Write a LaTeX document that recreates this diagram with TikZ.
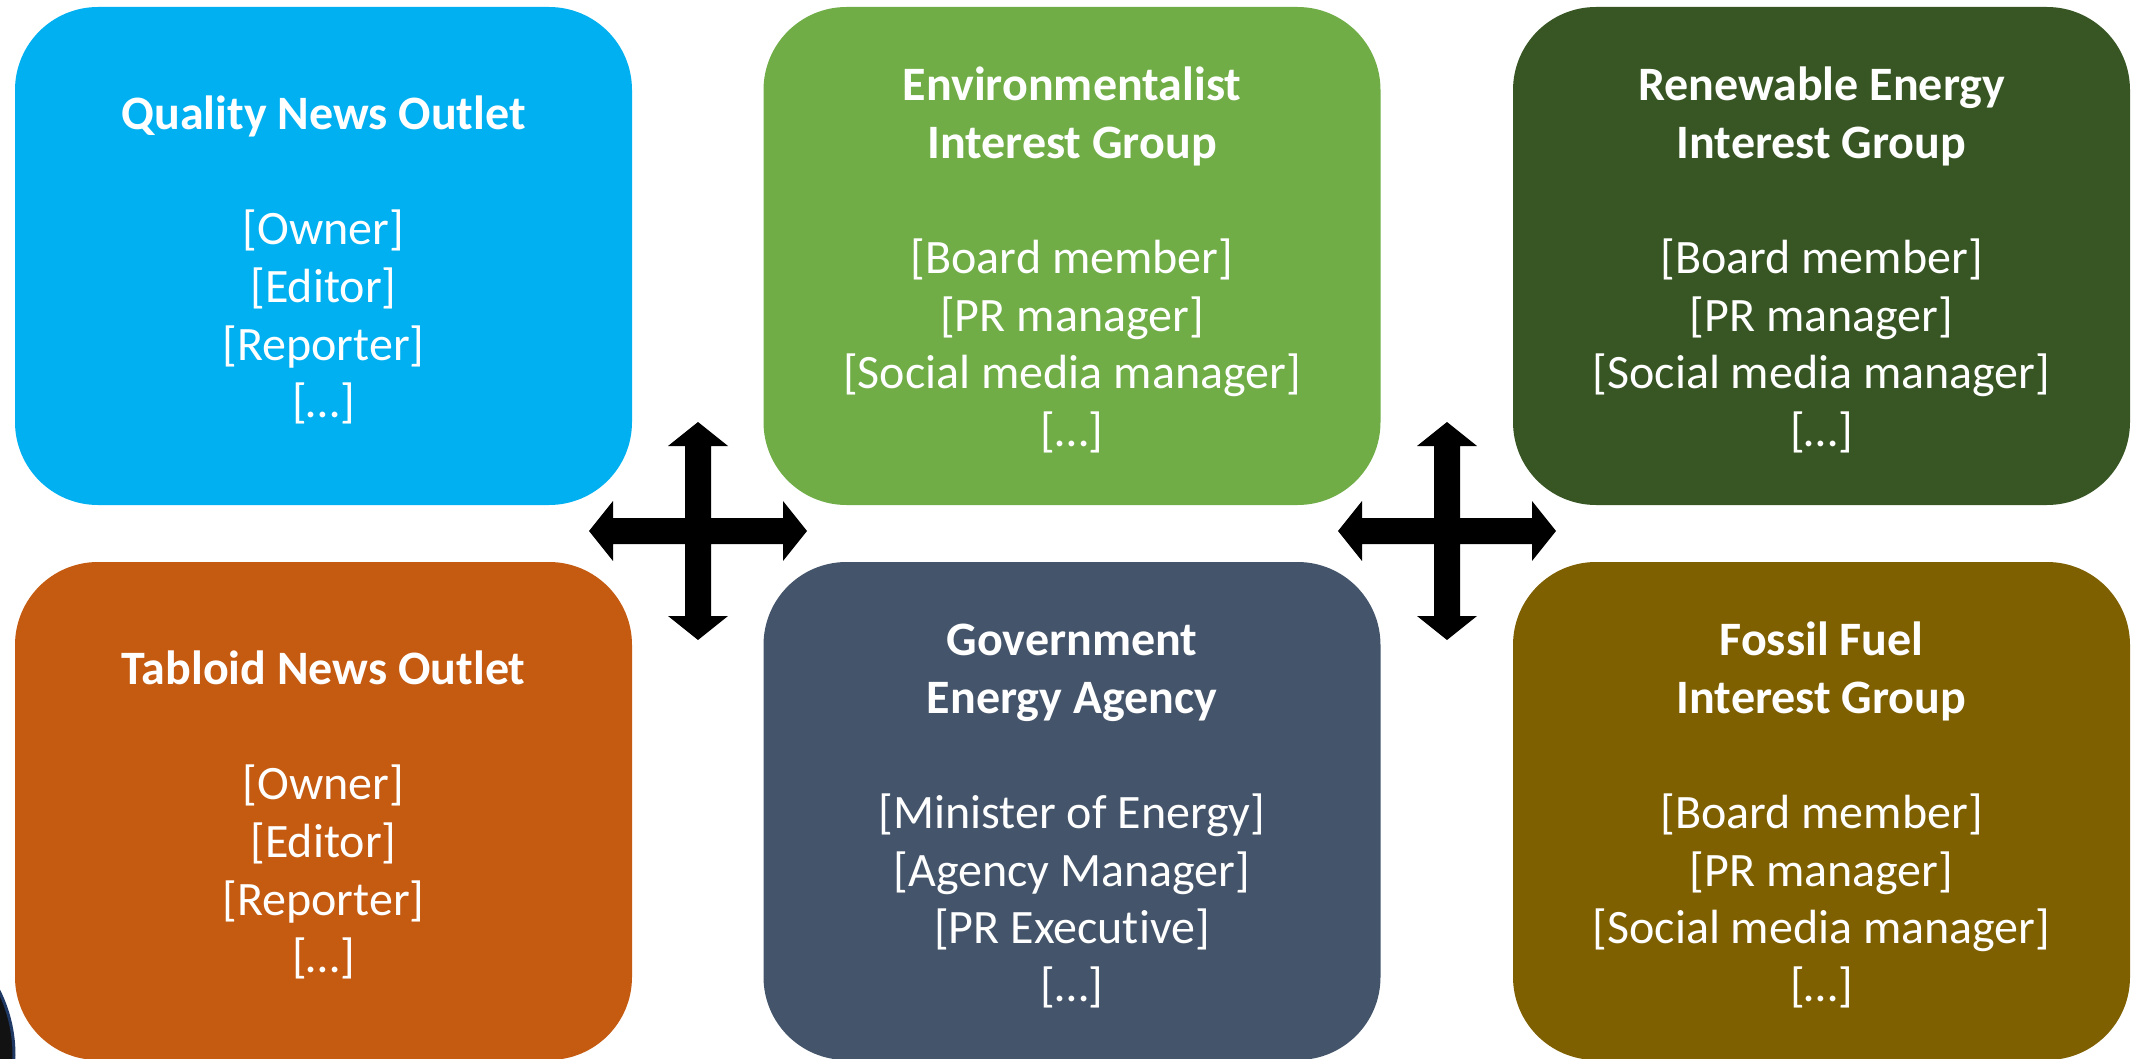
\documentclass[tikz,border=0pt]{standalone}
\usepackage{fontspec}
\setmainfont{Carlito}[Ligatures=NoCommon]
\definecolor{qualityblue}{HTML}{00B0F0}
\definecolor{envgreen}{HTML}{70AD47}
\definecolor{renewgreen}{HTML}{375623}
\definecolor{tabloidorange}{HTML}{C55A11}
\definecolor{govslate}{HTML}{44546A}
\definecolor{fossilolive}{HTML}{7F6000}
\definecolor{ringblue}{HTML}{1F3864}
% a strut that lowers the first line of each box a little
\newcommand{\toprow}{\rule{0pt}{42pt}}
\begin{document}
\begin{tikzpicture}[x=1pt,y=-1pt,
  actor/.style={rectangle, rounded corners=83pt, minimum width=617pt,
    minimum height=498pt, inner sep=0pt, text=white, align=center,
    font=\fontsize{48pt}{57.6pt}\selectfont},
  fourway/.pic={
    \fill[black] (109,0) -- (85,30) -- (85,13) -- (13,13) -- (13,85) -- (30,85)
      -- (0,109) -- (-30,85) -- (-13,85) -- (-13,13) -- (-85,13) -- (-85,30)
      -- (-109,0) -- (-85,-30) -- (-85,-13) -- (-13,-13) -- (-13,-85) -- (-30,-85)
      -- (0,-109) -- (30,-85) -- (13,-85) -- (13,-13) -- (85,-13) -- (85,-30) -- cycle;
  }]
\useasboundingbox (0,0) rectangle (2134,1059);

% round badge peeking in at the lower left
\fill[black!93, draw=ringblue, line width=3pt] (-130,1055) circle[radius=144pt];

% top row
\node[actor, fill=qualityblue] (quality) at (323.5,256)
  {\toprow\textbf{Quality News Outlet}\\[57.6pt] {[Owner]}\\ {[Editor]}\\ {[Reporter]}\\ {[…]}};
\node[actor, fill=envgreen] (enviro) at (1072,256)
  {\toprow\textbf{Environmentalist}\\ \textbf{Interest Group}\\[57.6pt] {[Board member]}\\ {[PR manager]}\\ {[Social media manager]}\\ {[…]}};
\node[actor, fill=renewgreen] (renew) at (1821.5,256)
  {\toprow\textbf{Renewable Energy}\\ \textbf{Interest Group}\\[57.6pt] {[Board member]}\\ {[PR manager]}\\ {[Social media manager]}\\ {[…]}};

% bottom row
\node[actor, fill=tabloidorange] (tabloid) at (323.5,811)
  {\toprow\textbf{Tabloid News Outlet}\\[57.6pt] {[Owner]}\\ {[Editor]}\\ {[Reporter]}\\ {[…]}};
\node[actor, fill=govslate] (agency) at (1072,811)
  {\toprow\textbf{Government}\\ \textbf{Energy Agency}\\[57.6pt] {[Minister of Energy]}\\ {[Agency Manager]}\\ {[PR Executive]}\\ {[…]}};
\node[actor, fill=fossilolive] (fossil) at (1821.5,811)
  {\toprow\textbf{Fossil Fuel}\\ \textbf{Interest Group}\\[57.6pt] {[Board member]}\\ {[PR manager]}\\ {[Social media manager]}\\ {[…]}};

% four-way arrows between the columns
\pic at (698,531) {fourway};
\pic at (1447,531) {fourway};
\end{tikzpicture}
\end{document}
